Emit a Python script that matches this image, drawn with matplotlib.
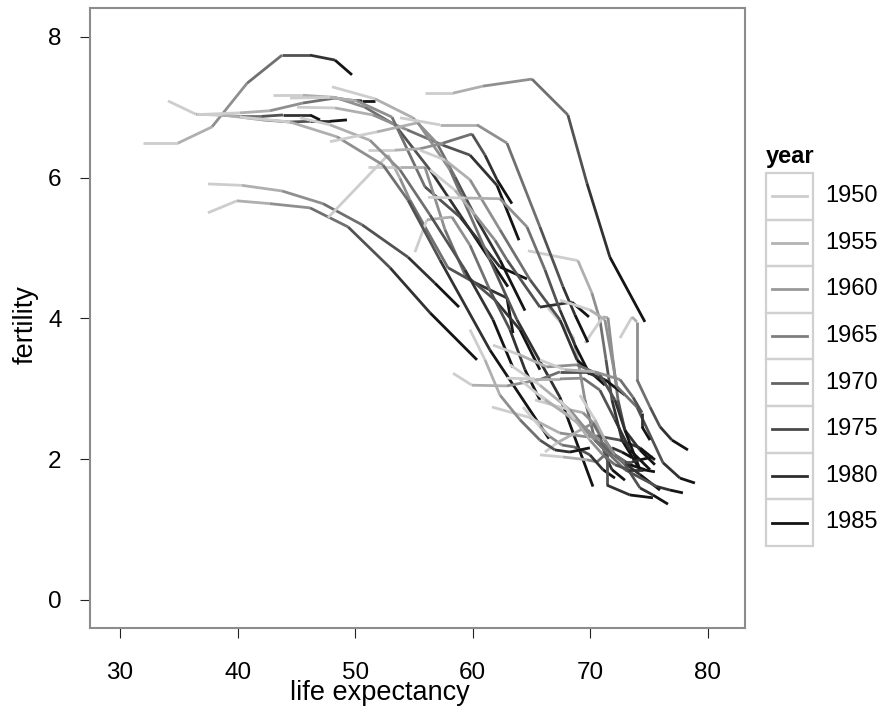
import numpy as np
import matplotlib
matplotlib.use('Agg')
import matplotlib.pyplot as plt
from matplotlib.collections import LineCollection
from matplotlib.colors import LinearSegmentedColormap, Normalize
from matplotlib.lines import Line2D
from matplotlib.patches import Rectangle

plt.rcParams['font.family'] = ['Liberation Sans', 'DejaVu Sans']

years = [1950, 1955, 1960, 1965, 1970, 1975, 1980, 1985]
legend_years = [1950, 1955, 1960, 1965, 1970, 1975, 1980, 1985]

# one path per country, one point per year
life_exp = [
    [31.96, 34.93, 37.82, 40.80, 43.78, 46.16, 48.28, 49.73],
    [34.08, 36.46, 38.33, 40.20, 42.07, 43.86, 46.16, 47.01],
    [36.55, 38.67, 40.20, 42.16, 44.46, 46.16, 47.86, 49.30],
    [37.23, 40.20, 42.75, 45.56, 48.28, 49.56, 50.58, 51.68],
    [43.01, 45.56, 48.28, 50.83, 53.38, 56.36, 59.76, 62.99],
    [45.05, 48.28, 51.51, 54.40, 57.47, 59.76, 62.06, 63.93],
    [48.03, 51.68, 54.91, 56.95, 58.49, 60.36, 62.31, 64.44],
    [44.46, 47.86, 50.15, 53.13, 55.93, 58.91, 62.31, 64.61],
    [37.48, 40.37, 43.78, 47.26, 50.58, 54.49, 56.78, 58.83],
    [37.48, 39.95, 42.75, 46.16, 49.39, 52.96, 56.36, 60.36],
    [55.93, 58.32, 60.87, 65.03, 68.09, 69.71, 71.66, 74.64],
    [51.09, 53.38, 55.51, 57.47, 59.93, 61.04, 62.06, 63.33],
    [47.69, 52.79, 53.81, 54.66, 57.89, 60.02, 62.91, 63.42],
    [51.09, 53.81, 55.93, 57.64, 59.34, 61.89, 64.01, 65.71],
    [55.08, 56.10, 58.23, 59.76, 61.46, 63.16, 64.44, 65.71],
    [64.69, 68.94, 70.13, 70.81, 71.33, 71.84, 72.69, 74.22],
    [66.39, 68.52, 68.94, 69.54, 70.39, 72.52, 74.22, 75.92],
    [72.52, 73.54, 73.96, 73.96, 75.07, 75.92, 76.94, 78.30],
    [69.54, 71.07, 71.50, 71.92, 72.35, 72.94, 74.22, 75.49],
    [40.20, 44.46, 48.45, 52.36, 54.49, 57.21, 61.46, 66.48],
    [45.31, 47.86, 51.26, 53.81, 56.36, 59.34, 61.72, 63.42],
    [47.86, 51.85, 55.34, 58.06, 61.46, 63.76, 67.41, 70.22],
    [55.51, 57.64, 59.76, 62.31, 64.86, 67.41, 68.86, 71.24],
    [56.36, 58.49, 60.19, 61.89, 62.91, 65.71, 68.43, 69.88],
    [53.81, 57.21, 60.36, 62.91, 65.71, 67.67, 68.69, 69.79],
    [56.19, 59.34, 62.31, 64.61, 66.14, 67.41, 68.69, 69.96],
    [58.32, 59.93, 62.91, 65.71, 67.41, 69.54, 71.24, 72.94],
    [61.63, 64.86, 67.41, 69.54, 70.56, 72.52, 74.22, 75.49],
    [61.72, 64.01, 66.31, 68.86, 70.81, 72.09, 72.94, 74.22],
    [62.91, 65.29, 67.41, 69.37, 70.81, 72.09, 73.37, 75.07],
    [65.71, 67.67, 69.71, 70.56, 71.24, 71.84, 72.69, 73.54],
    [64.27, 65.71, 66.56, 67.58, 68.69, 69.96, 71.07, 72.09],
    [65.29, 68.26, 69.37, 70.39, 71.24, 72.09, 73.37, 74.64],
    [66.14, 67.16, 69.11, 70.22, 70.81, 71.24, 71.84, 72.94],
    [65.71, 67.41, 69.11, 70.39, 71.41, 71.41, 73.37, 75.32],
    [64.01, 66.14, 68.69, 70.81, 72.94, 74.22, 75.32, 76.60],
    [63.16, 65.71, 68.26, 70.39, 72.94, 75.66, 76.77, 77.87],
    [67.41, 69.96, 71.24, 72.26, 73.96, 76.17, 77.62, 78.89],
    [65.71, 67.84, 70.39, 72.52, 73.62, 74.39, 74.39, 75.07],
    [69.11, 70.39, 71.24, 72.09, 72.94, 73.54, 74.22, 75.32],
    [67.41, 68.69, 69.96, 71.07, 72.09, 73.20, 74.47, 75.49],
    [59.76, 61.04, 62.31, 64.01, 65.71, 66.99, 68.26, 69.96],
]

fertility = [
    [6.49, 6.49, 6.72, 7.34, 7.74, 7.74, 7.67, 7.46],
    [7.09, 6.90, 6.89, 6.87, 6.87, 6.89, 6.89, 6.82],
    [6.90, 6.89, 6.86, 6.82, 6.79, 6.80, 6.80, 6.82],
    [6.90, 6.92, 6.95, 7.06, 7.13, 7.10, 7.09, 7.09],
    [7.17, 7.17, 7.14, 7.00, 6.75, 6.11, 5.26, 4.45],
    [7.00, 6.99, 6.89, 6.68, 6.46, 6.32, 5.89, 5.11],
    [7.29, 7.12, 6.85, 6.49, 6.01, 5.40, 4.83, 4.11],
    [7.13, 7.14, 7.09, 6.86, 5.87, 5.44, 4.73, 4.56],
    [5.91, 5.89, 5.81, 5.63, 5.33, 4.87, 4.50, 4.16],
    [5.50, 5.67, 5.63, 5.57, 5.30, 4.72, 4.08, 3.41],
    [7.20, 7.20, 7.30, 7.40, 6.89, 5.92, 4.87, 3.95],
    [6.39, 6.39, 6.41, 6.49, 6.62, 6.32, 5.97, 5.63],
    [5.43, 6.32, 5.99, 5.68, 4.72, 4.52, 4.29, 3.79],
    [6.15, 6.15, 6.15, 5.26, 4.62, 4.26, 3.84, 3.27],
    [4.94, 5.40, 5.44, 5.04, 4.40, 3.84, 3.27, 2.84],
    [4.96, 4.82, 4.36, 3.98, 3.41, 2.84, 2.27, 1.85],
    [4.15, 3.74, 3.41, 2.84, 2.27, 1.99, 1.78, 1.56],
    [3.72, 4.02, 3.95, 3.13, 2.74, 2.46, 2.27, 2.13],
    [3.65, 4.02, 4.01, 3.41, 2.84, 2.41, 2.13, 1.92],
    [6.86, 6.79, 6.58, 6.18, 5.68, 4.83, 3.55, 2.29],
    [6.85, 6.75, 6.53, 6.11, 5.47, 4.69, 3.98, 3.30],
    [6.51, 6.65, 6.78, 6.11, 4.83, 3.98, 2.88, 1.61],
    [6.39, 6.25, 5.97, 5.26, 4.55, 3.98, 3.41, 3.05],
    [6.11, 5.82, 5.47, 5.11, 4.83, 4.16, 4.23, 4.02],
    [6.85, 6.75, 6.75, 6.49, 5.30, 4.45, 4.05, 3.66],
    [5.72, 5.71, 5.70, 5.30, 4.69, 4.12, 3.62, 3.20],
    [3.22, 3.05, 3.04, 3.13, 3.24, 3.24, 3.13, 2.91],
    [2.74, 2.59, 2.37, 2.32, 2.33, 2.27, 2.16, 1.99],
    [3.62, 3.48, 3.31, 3.34, 3.20, 2.84, 2.41, 1.85],
    [3.15, 3.14, 3.14, 3.15, 2.98, 2.56, 2.13, 1.85],
    [2.06, 2.03, 1.99, 1.96, 2.06, 2.16, 2.10, 2.02],
    [2.74, 2.46, 2.32, 2.20, 2.17, 2.06, 1.85, 1.73],
    [2.84, 2.70, 2.66, 2.49, 2.27, 2.06, 1.92, 1.85],
    [2.10, 2.23, 2.41, 2.51, 2.34, 2.06, 1.85, 1.70],
    [2.91, 2.70, 2.49, 2.27, 2.09, 1.63, 1.49, 1.45],
    [3.13, 2.84, 2.56, 2.27, 1.92, 1.59, 1.49, 1.36],
    [3.34, 3.05, 2.70, 2.27, 1.85, 1.61, 1.56, 1.52],
    [4.26, 4.12, 3.98, 3.03, 2.74, 1.95, 1.73, 1.66],
    [3.41, 3.27, 3.24, 3.13, 2.88, 2.66, 2.46, 2.27],
    [2.91, 2.56, 2.27, 2.06, 1.96, 1.96, 1.99, 2.03],
    [2.84, 2.56, 2.27, 2.06, 1.92, 1.85, 1.85, 1.82],
    [3.84, 3.41, 2.91, 2.56, 2.27, 2.13, 2.10, 2.16],
]

W, H = 884, 709
fig = plt.figure(figsize=(W / 100, H / 100), dpi=100)
ax = fig.add_axes([90 / W, 1 - 628 / H, 655 / W, 620 / H])

cmap = LinearSegmentedColormap.from_list('greys', ['#cdcdcd', '#141414'])
norm = Normalize(vmin=years[0], vmax=years[-1])

for xs, ys in zip(life_exp, fertility):
    pts = np.column_stack([xs, ys])
    segs = np.stack([pts[:-1], pts[1:]], axis=1)
    n = len(segs)
    seg_year = [years[0] + i * (years[-1] - years[0]) / (n - 1) for i in range(n)]
    lc = LineCollection(segs, colors=cmap(norm(np.array(seg_year))),
                        linewidths=2.0, capstyle='butt', joinstyle='round')
    ax.add_collection(lc)

ax.set_xlim(27.45, 83.15)
ax.set_ylim(-0.40, 8.41)
ax.set_xticks([30, 40, 50, 60, 70, 80])
ax.set_yticks([0, 2, 4, 6, 8])
ax.tick_params(direction='out', length=7.5, width=0.8, color='#222222',
               labelsize=17.5, pad=17)
ax.tick_params(axis='y', pad=13)
for sp in ax.spines.values():
    sp.set_color('#8c8c8c')
    sp.set_linewidth(1.5)

ax.set_xlabel('life expectancy', fontsize=19.5)
ax.set_ylabel('fertility', fontsize=19.5)
ax.xaxis.set_label_coords(0.443, -0.084)
ax.yaxis.set_label_coords(-0.078, 0.489)

# legend drawn by hand, ggvis style
def fx(px):
    return px / W

def fy(py):
    return 1 - py / H

fig.text(fx(766), fy(157), 'year', fontsize=17, fontweight='bold',
         ha='left', va='center')
row_h = 46.6
top = 173
for i, yr in enumerate(legend_years):
    y0 = top + i * row_h
    fig.add_artist(Rectangle((fx(766), fy(y0 + row_h)), 47 / W, row_h / H,
                             transform=fig.transFigure, fill=False,
                             edgecolor='#d0d0d0', linewidth=1.6))
    yc = y0 + row_h / 2
    fig.add_artist(Line2D([fx(772), fx(807)], [fy(yc), fy(yc)],
                          transform=fig.transFigure, color=cmap(norm(yr)),
                          linewidth=2.0))
    fig.text(fx(825), fy(yc), str(yr), fontsize=17, ha='left', va='center')

fig.savefig('out.png', dpi=100)
